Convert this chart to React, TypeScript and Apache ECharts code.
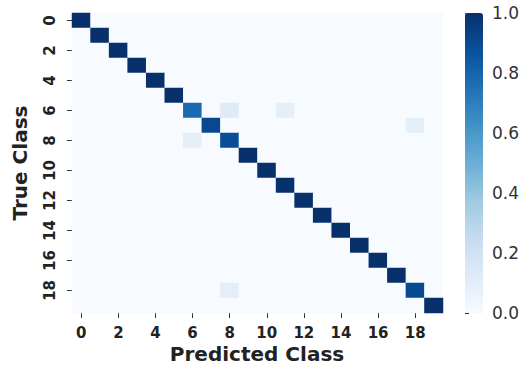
import React, { useEffect, useRef } from "react";
import * as echarts from "echarts";

const classes: string[] = Array.from({ length: 20 }, (_, i) => String(i));
// diagonal (correct-class rate) per true class
const diagonal: number[] = [
  1.0, 1.0, 1.0, 1.0, 1.0, 1.0, 0.78, 0.91, 0.89, 1.0,
  1.0, 1.0, 1.0, 1.0, 1.0, 1.0, 1.0, 1.0, 0.9, 1.0,
];
// [trueClass, predictedClass, value]
const offDiagonal: [number, number, number][] = [
  [6, 8, 0.13],
  [6, 11, 0.09],
  [7, 18, 0.09],
  [8, 6, 0.1],
  [18, 8, 0.1],
];
const colorbarTicks: number[] = [0, 0.2, 0.4, 0.6, 0.8, 1.0];
const blues = [
  "#f7fbff", "#deebf7", "#c6dbef", "#9ecae1", "#6baed6",
  "#4292c6", "#2171b5", "#08519c", "#08306b",
];

const FONT = "DejaVu Sans";

export default function App() {
  const ref = useRef<HTMLDivElement>(null);
  useEffect(() => {
    if (!ref.current) return;
    const chart = echarts.init(ref.current, undefined, { renderer: "svg" });
    const data: [number, number, number][] = [];
    for (let r = 0; r < classes.length; r++) {
      for (let c = 0; c < classes.length; c++) {
        let v = r === c ? diagonal[r] : 0;
        const od = offDiagonal.find((o) => o[0] === r && o[1] === c);
        if (od) v = od[2];
        data.push([c, r, v]);
      }
    }
    chart.setOption({
      animation: false,
      backgroundColor: "#ffffff",
      textStyle: { fontFamily: FONT },
      grid: [
        { left: 72, top: 13, width: 371, height: 300, containLabel: false },
        { left: 465, top: 13, width: 18, height: 300, containLabel: false },
      ],
      xAxis: [
        {
          type: "category",
          gridIndex: 0,
          data: classes,
          axisLine: { show: false },
          splitArea: { show: false },
          axisTick: {
            show: true,
            alignWithLabel: true,
            interval: 1,
            length: 5,
            lineStyle: { color: "#333" },
          },
          axisLabel: {
            interval: 1,
            fontSize: 15,
            fontWeight: "bold",
            color: "#222",
            fontFamily: FONT,
            margin: 12,
          },
        },
        { type: "value", gridIndex: 1, show: false, min: 0, max: 1 },
      ],
      yAxis: [
        {
          type: "category",
          gridIndex: 0,
          data: classes,
          inverse: true,
          axisLine: { show: false },
          splitArea: { show: false },
          axisTick: {
            show: true,
            alignWithLabel: true,
            interval: 1,
            length: 5,
            lineStyle: { color: "#333" },
          },
          axisLabel: {
            interval: 1,
            rotate: 90,
            fontSize: 15,
            fontWeight: "bold",
            color: "#222",
            fontFamily: FONT,
            margin: 15,
          },
        },
        {
          type: "value",
          gridIndex: 1,
          position: "right",
          min: 0,
          max: 1,
          interval: 0.2,
          axisLine: { show: false },
          splitLine: { show: false },
          axisTick: { show: true, length: 4, lineStyle: { color: "#333" } },
          axisLabel: {
            formatter: (v: number) => v.toFixed(1),
            fontSize: 17,
            color: "#333",
            fontFamily: FONT,
            margin: 9,
            customValues: colorbarTicks,
          },
        },
      ],
      visualMap: {
        type: "continuous",
        min: 0,
        max: 1,
        seriesIndex: 0,
        calculable: false,
        orient: "vertical",
        left: 465,
        top: 13,
        itemWidth: 18,
        itemHeight: 300,
        padding: 0,
        text: ["", ""],
        showLabel: false,
        inRange: { color: blues },
      },
      graphic: [
        {
          type: "text",
          x: 20,
          y: 163,
          rotation: Math.PI / 2,
          style: {
            text: "True Class",
            font: `bold 20px '${FONT}'`,
            fill: "#222",
            textAlign: "center",
            textVerticalAlign: "middle",
          },
        },
        {
          type: "text",
          x: 257,
          y: 354,
          style: {
            text: "Predicted Class",
            font: `bold 20px '${FONT}'`,
            fill: "#222",
            textAlign: "center",
            textVerticalAlign: "middle",
          },
        },
      ],
      series: [
        {
          type: "heatmap",
          xAxisIndex: 0,
          yAxisIndex: 0,
          data,
          itemStyle: { borderWidth: 0 },
          emphasis: { disabled: true },
        },
        {
          type: "scatter",
          xAxisIndex: 1,
          yAxisIndex: 1,
          data: [],
        },
      ],
    });
    return () => chart.dispose();
  }, []);
  return <div ref={ref} style={{ width: 525, height: 366, position: "absolute", left: 0, top: 0 }} />;
}
